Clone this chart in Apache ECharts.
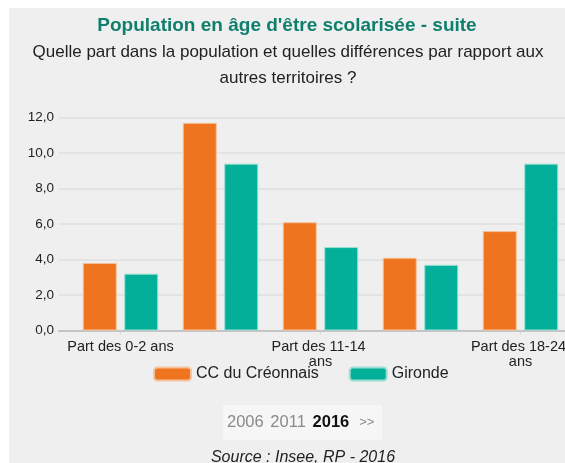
<!DOCTYPE html>
<html>
<head>
<meta charset="utf-8">
<script src="https://cdn.jsdelivr.net/npm/echarts@6/dist/echarts.min.js"></script>
<style>
  html, body { margin: 0; padding: 0; background: #fff; }
  #chart { position: absolute; left: 9px; top: 8px; width: 556px; height: 455px; background: #efefef; }
</style>
</head>
<body>
<div id="chart"></div>
<script>
let chart = document.getElementById('chart');

var categories = ['Part des 0-2 ans', 'Part des 3-10 ans', 'Part des 11-14 ans', 'Part des 15-17 ans', 'Part des 18-24 ans'];
var creonnais = [3.8, 11.7, 6.1, 4.1, 5.6];
var gironde = [3.2, 9.4, 4.7, 3.7, 9.4];
var years = ['2006', '2011', '2016'];

var font = '"Liberation Sans", Arial, sans-serif';

// grid 0 holds the y labels, gridlines and base line; grid 1 (slightly inset) holds the bars
option = {
    animation: false,
    textStyle: { fontFamily: font },
    title: [{
        text: 'Population en âge d\'être scolarisée - suite',
        left: 273,
        top: 3,
        textAlign: 'center',
        textStyle: {
            color: '#0f7f6d',
            fontSize: 19,
            fontWeight: 'bold',
            fontFamily: font
        }
    }, {
        text: 'Quelle part dans la population et quelles différences par rapport aux\nautres territoires ?',
        left: 274,
        top: 26,
        textAlign: 'center',
        textStyle: {
            color: '#222',
            fontSize: 17,
            fontWeight: 'normal',
            lineHeight: 26,
            fontFamily: font
        }
    }],
    legend: {
        top: 353,
        left: 139,
        itemWidth: 37,
        itemHeight: 13,
        itemGap: 30,
        textStyle: { fontSize: 16, color: '#222', fontFamily: font },
        data: ['CC du Créonnais', 'Gironde']
    },
    grid: [{
        left: 50,
        right: 0,
        top: 109.5,
        bottom: 132.5,
        outerBoundsMode: 'none'
    }, {
        left: 61.5,
        right: -5.5,
        top: 109.5,
        bottom: 132.5,
        outerBoundsMode: 'none'
    }],
    xAxis: [{
        type: 'value',
        gridIndex: 0,
        min: 0,
        max: 1,
        splitLine: { show: false },
        axisTick: { show: false },
        axisLabel: { show: false },
        axisLine: { show: true, onZero: false, lineStyle: { color: '#c4c4c4', width: 2 } }
    }, {
        type: 'category',
        gridIndex: 1,
        data: categories,
        axisLine: { show: false },
        axisTick: { show: true, alignWithLabel: true, interval: 1, length: 4, lineStyle: { color: '#d0d0d0' } },
        axisLabel: {
            interval: 1,
            color: '#222',
            fontSize: 14.5,
            width: 112,
            overflow: 'break',
            lineHeight: 15,
            margin: 9
        }
    }],
    yAxis: [{
        type: 'value',
        gridIndex: 0,
        min: 0,
        max: 12,
        interval: 2,
        axisLine: { show: false },
        axisTick: { show: false },
        splitLine: { lineStyle: { color: '#e3e3e3', width: 2 } },
        axisLabel: {
            color: '#222',
            fontSize: 13.5,
            margin: 5,
            formatter: function (v) { return v.toFixed(1).replace('.', ','); }
        }
    }, {
        type: 'value',
        gridIndex: 1,
        min: 0,
        max: 12,
        interval: 2,
        show: false
    }],
    series: [{
        name: 'CC du Créonnais',
        type: 'bar',
        xAxisIndex: 1,
        yAxisIndex: 1,
        barWidth: 34,
        barGap: '22%',
        itemStyle: { color: '#ef741f', borderColor: '#f5c29b', borderWidth: 1 },
        data: creonnais
    }, {
        name: 'Gironde',
        type: 'bar',
        xAxisIndex: 1,
        yAxisIndex: 1,
        barWidth: 34,
        barGap: '22%',
        itemStyle: { color: '#03af99', borderColor: '#9bdfd4', borderWidth: 1 },
        data: gironde
    }],
    graphic: [{
        type: 'rect',
        shape: { x: 214, y: 397, width: 159, height: 35 },
        style: { fill: '#f6f6f6' }
    }, {
        type: 'text',
        x: 218,
        y: 414,
        style: {
            rich: {
                g: { fontSize: 16.5, fill: '#8a8a8a', fontFamily: font },
                b: { fontSize: 16.5, fill: '#111', fontWeight: 'bold', fontFamily: font },
                s: { fontSize: 13, fill: '#8a8a8a', fontFamily: font }
            },
            text: '{g|' + years[0] + '}  {g|' + years[1] + '}  {b|' + years[2] + '}   {s|>>}',
            verticalAlign: 'middle'
        }
    }, {
        type: 'text',
        x: 294,
        y: 450,
        style: {
            text: 'Source : Insee, RP - 2016',
            fontSize: 16,
            fontStyle: 'italic',
            fill: '#222',
            fontFamily: font,
            align: 'center',
            verticalAlign: 'middle'
        }
    }]
};

echarts.init(chart).setOption(option, true);
</script>
</body>
</html>
